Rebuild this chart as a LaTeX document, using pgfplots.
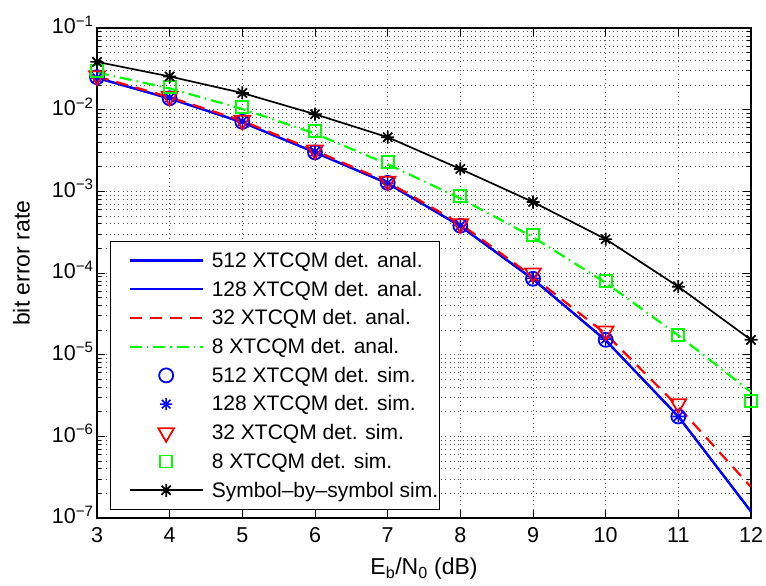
\documentclass[border=0pt]{standalone}
\usepackage{fontspec}
\setmainfont{Liberation Sans}
\usepackage{pgfplots}
\pgfplotsset{compat=1.18}
% matlab-style '*' marker: plus and cross together
\pgfdeclareplotmark{ast8}{%
  \pgfpathmoveto{\pgfqpoint{-\pgfplotmarksize}{0pt}}\pgfpathlineto{\pgfqpoint{\pgfplotmarksize}{0pt}}%
  \pgfpathmoveto{\pgfqpoint{0pt}{-\pgfplotmarksize}}\pgfpathlineto{\pgfqpoint{0pt}{\pgfplotmarksize}}%
  \pgfpathmoveto{\pgfqpoint{-0.707\pgfplotmarksize}{-0.707\pgfplotmarksize}}\pgfpathlineto{\pgfqpoint{0.707\pgfplotmarksize}{0.707\pgfplotmarksize}}%
  \pgfpathmoveto{\pgfqpoint{-0.707\pgfplotmarksize}{0.707\pgfplotmarksize}}\pgfpathlineto{\pgfqpoint{0.707\pgfplotmarksize}{-0.707\pgfplotmarksize}}%
  \pgfusepathqstroke}
\pgfplotsset{
  longleg/.style={legend image code/.code={%
    \path (-18pt,0pt) (80pt,0pt);
    \draw[##1] (0pt,0pt) -- (73pt,0pt);
    \path[##1, only marks] plot coordinates {(36.5pt,0pt)};}},
  markleg/.style={legend image code/.code={%
    \path (-18pt,0pt) (80pt,0pt);
    \path[##1] plot coordinates {(36.5pt,0pt)};}},
}
\begin{document}
\begin{tikzpicture}
\begin{axis}[
  name=ax, scale only axis, width=654pt, height=490pt,
  xmin=3, xmax=12, ymode=log, ymin=1e-7, ymax=1e-1,
  xtick={3,4,...,12},
  ytick={1e-7,1e-6,1e-5,1e-4,1e-3,1e-2,1e-1},
  yticklabels={10\textsuperscript{−7},10\textsuperscript{−6},10\textsuperscript{−5},10\textsuperscript{−4},10\textsuperscript{−3},10\textsuperscript{−2},10\textsuperscript{−1}},
  tick align=inside, major tick length=8pt, minor tick length=4pt,
  grid=both,
  major grid style={line width=0.8pt, black!65, dash pattern=on 0.8pt off 3.5pt},
  minor grid style={line width=0.8pt, black!65, dash pattern=on 0.8pt off 3.5pt},
  axis line style={line width=1.2pt},
  every tick/.style={black, line width=0.8pt},
  tick label style={font=\fontsize{21.5}{24}\selectfont},
  yticklabel style={yshift=3pt},
  xticklabel style={yshift=-6pt},
  /pgf/number format/assume math mode=true,
  xlabel={E\textsubscript{b}/N\textsubscript{0} (dB)},
  ylabel={bit error rate},
  label style={font=\fontsize{23}{26}\selectfont},
  xlabel style={at={(axis description cs:0.5,-0.116)}, anchor=base},
  ylabel style={at={(axis description cs:-0.1155,0.52)}, anchor=center},
  legend cell align=left,
  legend style={at={(0.02,0.566)}, anchor=north west, draw=black, line width=1pt,
    font=\fontsize{21}{23}\selectfont, row sep=8pt, inner xsep=0pt, inner ysep=9pt,
    nodes={inner xsep=1pt}},
]
\addplot[blue, line width=2.2pt, longleg] coordinates {(3,2.45e-2) (4,1.37e-2) (5,7.0e-3) (6,3.0e-3) (7,1.25e-3) (8,3.75e-4) (9,8.4e-5) (10,1.5e-5) (11,1.75e-6) (12,1.2e-7)};
\addlegendentry{512 XTCQM det. anal.}
\addplot[blue, line width=2.2pt, longleg] coordinates {(3,2.45e-2) (4,1.37e-2) (5,7.0e-3) (6,3.0e-3) (7,1.25e-3) (8,3.75e-4) (9,8.4e-5) (10,1.5e-5) (11,1.75e-6) (12,1.2e-7)};
\addlegendentry{128 XTCQM det. anal.}
\addplot[red, line width=2.2pt, dash pattern=on 12pt off 8pt, longleg] coordinates {(3,2.55e-2) (4,1.42e-2) (5,7.3e-3) (6,3.15e-3) (7,1.3e-3) (8,4.0e-4) (9,9.0e-5) (10,1.8e-5) (11,2.3e-6) (12,2.4e-7)};
\addlegendentry{32 XTCQM det. anal.}
\addplot[green, line width=2.2pt, dash pattern=on 12pt off 5pt on 1.5pt off 5pt, longleg] coordinates {(3,2.85e-2) (4,1.82e-2) (5,1.02e-2) (6,5.1e-3) (7,2.15e-3) (8,8.2e-4) (9,2.75e-4) (10,7.6e-5) (11,1.72e-5) (12,3.5e-6)};
\addlegendentry{8 XTCQM det. anal.}
\addplot[blue, only marks, mark=o, mark size=7pt, line width=1.8pt, markleg] coordinates {(3,2.5e-2) (4,1.38e-2) (5,7.1e-3) (6,3.0e-3) (7,1.27e-3) (8,3.8e-4) (9,8.5e-5) (10,1.52e-5) (11,1.75e-6)};
\addlegendentry{512 XTCQM det. sim.}
\addplot[blue, only marks, mark=ast8, mark size=6pt, line width=1.6pt, markleg] coordinates {(3,2.45e-2) (4,1.4e-2) (5,7.2e-3) (6,3.05e-3) (7,1.26e-3) (8,3.8e-4) (9,8.6e-5) (10,1.55e-5) (11,1.75e-6)};
\addlegendentry{128 XTCQM det. sim.}
\addplot[red, only marks, mark=triangle, mark options={rotate=180}, mark size=9pt, line width=1.8pt, markleg] coordinates {(3,2.6e-2) (4,1.45e-2) (5,7.4e-3) (6,3.2e-3) (7,1.33e-3) (8,4.0e-4) (9,1.0e-4) (10,1.95e-5) (11,2.5e-6)};
\addlegendentry{32 XTCQM det. sim.}
\addplot[green, only marks, mark=square, mark size=6pt, line width=1.8pt, markleg] coordinates {(3,2.98e-2) (4,1.9e-2) (5,1.08e-2) (6,5.5e-3) (7,2.3e-3) (8,8.8e-4) (9,2.92e-4) (10,7.9e-5) (11,1.75e-5) (12,2.7e-6)};
\addlegendentry{8 XTCQM det. sim.}
\addplot[black, line width=1.7pt, mark=ast8, mark size=6.5pt, longleg] coordinates {(3,3.85e-2) (4,2.55e-2) (5,1.6e-2) (6,8.8e-3) (7,4.6e-3) (8,1.88e-3) (9,7.4e-4) (10,2.6e-4) (11,6.8e-5) (12,1.52e-5)};
\addlegendentry{Symbol\textendash by\textendash symbol sim.}
\end{axis}
\pgfresetboundingbox
\path ([xshift=-97pt,yshift=-67pt]ax.south west) rectangle ([xshift=15pt,yshift=28pt]ax.north east);
\end{tikzpicture}
\end{document}
